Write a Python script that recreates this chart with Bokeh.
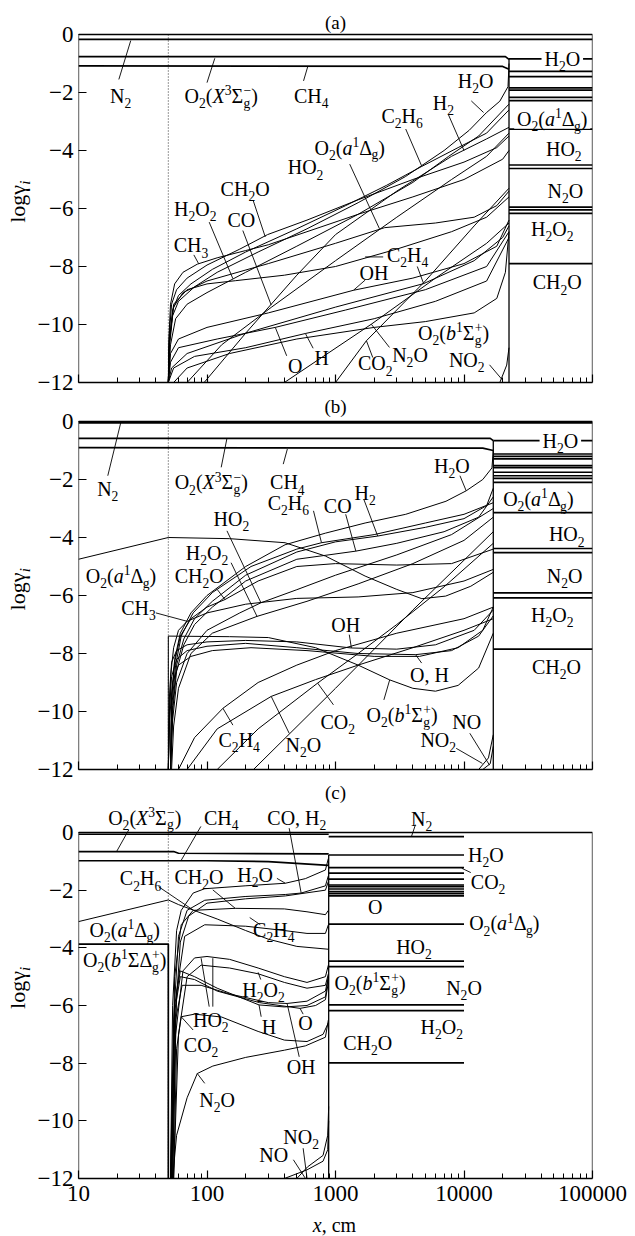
import re
from bokeh.plotting import figure
from bokeh.layouts import column, row
from bokeh.models import Label, FixedTicker
from bokeh.embed import file_html
from bokeh.resources import INLINE

FONT = "Liberation Serif"
LABEL_PX = 20
TITLE_PX = 19
TICK_PX = "23px"
FRAME_W = 516
PX_PER_DECADE = FRAME_W / 4.0
X_MIN, X_MAX = 10, 100000
Y_MIN, Y_MAX = -12, 0

X_TICKS = [10, 100, 1000, 10000, 100000]
X_MINOR = [m * d for d in (10, 100, 1000, 10000) for m in range(2, 10)]
Y_TICKS = [-12, -10, -8, -6, -4, -2, 0]

# ---------------- panel (a) ----------------
A_EDGE = 22400
A_N2 = ([10, 100000], [-0.17, -0.17])
A_O2X = ([10, 21000, 22400], [-0.76, -0.76, -0.86])
A_CH4 = ([10, 20000, 22400], [-1.08, -1.10, -1.20])
A_RIGHT = [-0.84, -1.27, -1.45, -1.84, -1.92, -2.17, -2.28, -3.26, -4.50, -4.62, -5.95, -6.05, -6.17, -7.90]

A_CH3 = ([50, 50.5, 52, 56, 65, 84, 120, 200, 300, 600, 1500, 4000, 10000, 20000, 22400],
         [-12, -10.5, -9.3, -8.6, -8.2, -7.92, -7.7, -7.45, -7.25, -6.8, -6.2, -5.6, -5.0, -4.3, -4.0])
A_CH2O = ([50, 51, 53, 58, 70, 100, 180, 296, 600, 1500, 4000, 10000, 18000, 22400],
          [-12, -10.3, -9.3, -8.8, -8.4, -7.95, -7.4, -6.9, -6.4, -5.7, -5.0, -4.4, -3.9, -3.5])
A_C2H6 = ([50, 51, 54, 60, 75, 110, 200, 500, 1200, 2500, 4640, 9000, 15000, 22400],
          [-12, -10.6, -9.5, -9.0, -8.6, -8.1, -7.5, -6.7, -5.9, -5.2, -4.56, -3.9, -3.4, -2.6])
A_H2O = ([50, 51, 54, 60, 80, 120, 250, 600, 1500, 3500, 7000, 11000, 14900, 19000, 22000, 22400],
         [-12, -10.8, -9.7, -9.2, -8.7, -8.2, -7.5, -6.7, -5.8, -4.9, -4.0, -3.3, -2.7, -2.3, -1.8, -1.0])
A_H2 = ([50, 52, 57, 70, 100, 200, 500, 1500, 4000, 7600, 13000, 22400],
        [-12, -10.7, -9.8, -9.3, -8.9, -8.2, -7.3, -6.2, -5.1, -4.2, -3.5, -2.4])
A_O2A = ([50, 51, 55, 65, 100, 300, 1000, 2415, 6000, 12000, 18000, 22400],
         [-12, -10.5, -9.4, -8.9, -8.5, -7.9, -7.2, -6.66, -6.5, -6.3, -5.9, -5.4])
A_H2O2 = ([50, 51, 55, 70, 100, 166, 400, 1000, 3000, 8000, 15000, 22400],
          [-12, -10.6, -9.3, -8.8, -8.6, -8.49, -8.3, -8.0, -7.4, -6.8, -6.3, -5.6])
A_HO2 = ([95, 200, 500, 1000, 3000, 8000, 15000, 22400],
         [-12, -10.3, -8.3, -6.9, -5.4, -4.2, -3.6, -3.2])
A_CO = ([70, 130, 316, 1000, 3000, 8000, 15000, 22400],
        [-12, -10.7, -9.41, -7.8, -6.3, -5.0, -4.2, -3.4])
A_OH = ([50, 52, 60, 100, 300, 1380, 4000, 10000, 18000, 22400],
        [-12, -11.0, -10.5, -10.1, -9.6, -8.82, -8.4, -7.9, -7.3, -6.4])
A_H = ([50, 55, 80, 200, 583, 2000, 6000, 15000, 22400],
       [-12, -11.5, -11.1, -10.8, -10.31, -9.8, -9.2, -8.5, -7.0])
A_O = ([50, 52, 60, 120, 340, 1200, 5000, 15000, 22400],
       [-12, -11.3, -10.8, -10.5, -10.1, -9.5, -8.8, -8.0, -6.8])
A_N2O = ([400, 1900, 6000, 15000, 22400], [-12, -9.99, -8.4, -7.2, -6.5])
A_CO2 = ([1000, 1740, 5000, 12000, 22400], [-12, -10.56, -8.5, -6.6, -5.3])
A_C2H4 = ([50, 53, 70, 200, 1000, 4850, 12000, 20000, 22400],
          [-12, -11.5, -11.0, -10.3, -9.4, -8.59, -7.8, -7.0, -6.6])
A_O2B = ([55, 70, 150, 500, 2000, 5000, 12000, 18000, 21000, 22400],
         [-12, -11.5, -11.0, -10.5, -10.1, -9.9, -9.6, -9.1, -8.2, -6.8])
A_NO2 = ([19000, 21500, 22400], [-12, -11.4, -10.8])

A_FLAT = [A_N2, A_O2X, A_CH4]
A_CURVES = [A_CH3, A_CH2O, A_C2H6, A_H2O, A_H2, A_O2A, A_H2O2, A_HO2, A_CO, A_OH,
            A_H, A_O, A_N2O, A_CO2, A_C2H4, A_O2B, A_NO2]

# label text, x, y, leader (x0, y0, x1, y1) or None, white backing
A_LABELS = [
    ("N_{2}", 21.3, -2.12, (20.6, -1.55, 25.5, -0.21), False),
    ("O_{2}(*X*^{3}Σ^{−}_{g})", 129, -2.12, (100, -1.66, 115, -0.82), False),
    ("CH_{4}", 648, -2.12, (564, -1.6, 607, -1.12), False),
    ("H_{2}O", 12300, -1.6, (11400, -2.29, 14200, -2.69), False),
    ("H_{2}", 6920, -2.35, (7540, -2.75, 10000, -4.0), False),
    ("C_{2}H_{6}", 3300, -2.8, (3520, -3.26, 4670, -4.52), False),
    ("O_{2}(*a*^{1}Δ_{g})", 1290, -3.9, (1290, -4.47, 2200, -6.7), False),
    ("HO_{2}", 585, -4.58, None, False),
    ("CH_{2}O", 198, -5.32, (229, -5.73, 284, -6.98), False),
    ("H_{2}O_{2}", 81, -6.01, (104, -6.47, 159, -8.42), False),
    ("CO", 185, -6.41, (190, -6.76, 316, -9.33), False),
    ("CH_{3}", 75, -7.27, (79, -7.6, 86, -7.9), False),
    ("C_{2}H_{4}", 3640, -7.61, (4330, -8.0, 4850, -8.59), False),
    ("OH", 1990, -8.24, (1700, -8.47, 1380, -8.82), False),
    ("O_{2}(*b*^{1}Σ^{+}_{g})", 8300, -10.3, None, False),
    ("H", 780, -11.16, (670, -10.82, 583, -10.31), False),
    ("O", 485, -11.42, (417, -11.08, 340, -10.1), False),
    ("CO_{2}", 2040, -11.34, (1950, -11.14, 1740, -10.56), False),
    ("N_{2}O", 3800, -11.05, (2630, -10.79, 1900, -9.99), False),
    ("NO_{2}", 10500, -11.22, (15800, -11.39, 19800, -11.9), False),
    ("H_{2}O", 58200, -0.83, None, True),
    ("O_{2}(*a*^{1}Δ_{g})", 48600, -2.92, None, True),
    ("HO_{2}", 59800, -3.95, None, False),
    ("N_{2}O", 61600, -5.39, None, False),
    ("H_{2}O_{2}", 48600, -6.71, None, False),
    ("CH_{2}O", 53200, -8.55, None, False),
]
A_EXTRA_LEADERS = [(1700, -7.67, 2350, -7.67)]

# ---------------- panel (b) ----------------
B_EDGE = 16900
B_N2 = ([10, 100000], [-0.05, -0.05])
B_O2X = ([10, 16000, 16900], [-0.58, -0.58, -0.66])
B_CH4 = ([10, 14000, 16900], [-0.90, -0.92, -1.00])
B_RIGHT = [-0.66, -1.12, -1.20, -1.29, -1.52, -1.59, -1.75, -1.87, -1.96, -2.10, -3.14, -4.38, -4.52, -5.91, -6.08, -7.85]

B_O2A = ([10, 50, 150, 405, 835, 1700, 3000, 4700, 7200, 11300, 16900],
         [-4.75, -4.0, -4.04, -4.18, -4.64, -5.33, -5.79, -6.11, -6.02, -5.68, -5.2])
B_O2B = ([50, 50, 150, 300, 700, 1500, 2640, 4000, 6000, 9000, 13000, 16900],
         [-12, -7.4, -7.42, -7.45, -7.8, -8.4, -8.91, -9.2, -9.3, -9.1, -8.5, -7.3])
B_H2O = ([52, 53, 56, 62, 75, 100, 200, 405, 835, 1700, 3520, 7240, 10400, 14000, 16500, 16900],
         [-12, -9.5, -8.2, -7.3, -6.6, -6.0, -5.0, -4.25, -3.85, -3.5, -3.2, -2.75, -2.39, -2.0, -1.6, -1.0])
B_H2 = ([52, 54, 58, 66, 80, 110, 200, 500, 1000, 2130, 5000, 10000, 15000, 16900],
        [-12, -9.8, -8.4, -7.5, -6.8, -6.2, -5.3, -4.5, -4.15, -3.95, -3.65, -3.35, -2.9, -2.3])
B_CO = ([52, 54, 58, 66, 80, 110, 200, 500, 1440, 3000, 7000, 13000, 16900],
        [-12, -10.0, -8.6, -7.7, -7.0, -6.4, -5.5, -4.75, -4.47, -4.2, -3.8, -3.3, -2.6])
B_C2H6 = ([52, 53, 57, 63, 78, 110, 220, 500, 778, 2000, 5000, 10000, 16900],
          [-12, -9.9, -8.4, -7.4, -6.6, -5.9, -5.0, -4.4, -4.18, -3.9, -3.5, -3.2, -2.8])
B_CH3 = ([50, 52, 55, 60, 70, 100, 200, 500, 1500, 4000, 10000, 16900],
         [-12, -8.8, -7.8, -7.2, -6.89, -6.6, -6.3, -6.1, -6.05, -5.9, -5.5, -5.1])
B_CH2O = ([52, 53, 56, 62, 75, 100, 138, 250, 500, 1000, 3000, 8000, 16900],
          [-12, -9.6, -8.3, -7.4, -6.8, -6.4, -6.14, -5.5, -5.0, -4.9, -4.95, -4.9, -4.4])
B_HO2 = ([52, 54, 58, 70, 100, 180, 263, 500, 1000, 3000, 8000, 16900],
         [-12, -10.3, -9.0, -8.0, -7.2, -6.6, -6.25, -5.8, -5.3, -4.6, -3.9, -3.0])
B_H2O2 = ([53, 55, 60, 75, 110, 245, 600, 1500, 4000, 10000, 16900],
          [-12, -10.5, -9.2, -8.0, -7.3, -6.72, -6.2, -5.6, -4.9, -4.1, -3.3])
B_OH = ([50, 51, 53, 58, 70, 100, 200, 500, 1330, 3000, 6000, 12000, 16900],
        [-12, -9.5, -8.3, -7.9, -7.7, -7.6, -7.55, -7.6, -7.81, -7.85, -7.7, -7.2, -6.5])
B_O = ([50, 51, 53, 58, 70, 100, 200, 500, 1500, 4200, 8000, 13000, 16900],
       [-12, -10.0, -8.8, -8.2, -7.9, -7.75, -7.65, -7.8, -8.0, -8.04, -7.9, -7.4, -6.7])
B_H = ([50, 51, 54, 60, 75, 110, 220, 600, 2000, 4500, 9000, 14000, 16900],
       [-12, -10.3, -9.0, -8.4, -8.1, -7.9, -7.8, -7.9, -8.1, -8.1, -7.8, -7.2, -6.4])
B_C2H4 = ([60, 80, 133, 250, 500, 1000, 3000, 10000, 16900],
          [-12, -10.9, -9.89, -9.0, -8.4, -7.9, -7.3, -6.8, -6.4])
B_N2O = ([70, 120, 316, 700, 1500, 4000, 10000, 16900],
         [-12, -10.6, -9.48, -8.9, -8.4, -7.8, -7.2, -6.8])
B_CO2 = ([120, 250, 726, 1500, 3000, 7000, 16900],
         [-12, -10.6, -9.02, -8.0, -7.0, -5.7, -4.2])
B_LATE = ([230, 1000, 4000, 16900], [-12, -9.2, -6.5, -3.8])
B_NO = ([13000, 15500, 16900], [-12, -11.6, -10.8])
B_NO2 = ([14000, 16000, 16900], [-12, -11.8, -11.2])

B_FLAT = [B_N2, B_O2X, B_CH4]
B_CURVES = [B_O2A, B_O2B, B_H2O, B_H2, B_CO, B_C2H6, B_CH3, B_CH2O, B_HO2, B_H2O2,
            B_OH, B_O, B_H, B_C2H4, B_N2O, B_CO2, B_LATE, B_NO, B_NO2]

B_LABELS = [
    ("N_{2}", 16.9, -2.33, (16.9, -1.87, 21.3, -0.05), False),
    ("O_{2}(*X*^{3}Σ^{−}_{g})", 108, -2.1, (129, -1.58, 143, -0.58), False),
    ("CH_{4}", 422, -2.1, (392, -1.47, 422, -0.95), False),
    ("C_{2}H_{6}", 430, -2.8, (674, -3.08, 778, -4.18), False),
    ("CO", 1040, -2.91, (1200, -3.2, 1440, -4.47), False),
    ("H_{2}", 1700, -2.45, (1660, -2.68, 2130, -3.95), False),
    ("H_{2}O", 8060, -1.52, (9300, -1.87, 10400, -2.39), False),
    ("HO_{2}", 155, -3.37, (143, -3.77, 263, -6.25), False),
    ("H_{2}O_{2}", 100, -4.52, (154, -4.87, 245, -6.72), False),
    ("O_{2}(*a*^{1}Δ_{g})", 21.4, -5.33, None, False),
    ("CH_{2}O", 87, -5.33, (120, -5.79, 138, -6.14), False),
    ("CH_{3}", 29.3, -6.43, (40, -6.6, 70, -6.89), False),
    ("OH", 1200, -7.0, (1280, -7.35, 1330, -7.81), False),
    ("O, H", 5380, -8.73, (4680, -8.33, 4200, -8.04), False),
    ("O_{2}(*b*^{1}Σ^{+}_{g})", 3300, -10.12, (2380, -9.6, 2640, -8.91), False),
    ("CO_{2}", 1040, -10.35, (964, -9.77, 726, -9.02), False),
    ("C_{2}H_{4}", 178, -10.98, (159, -10.47, 133, -9.89), False),
    ("N_{2}O", 562, -11.16, (436, -10.75, 316, -9.48), False),
    ("NO", 10500, -10.35, (11100, -10.75, 15800, -11.85), False),
    ("NO_{2}", 6300, -10.98, (8700, -11.27, 13900, -11.79), False),
    ("H_{2}O", 56200, -0.66, None, True),
    ("O_{2}(*a*^{1}Δ_{g})", 37900, -2.68, None, True),
    ("HO_{2}", 63000, -3.89, None, False),
    ("N_{2}O", 60600, -5.33, None, False),
    ("H_{2}O_{2}", 48600, -6.66, None, False),
    ("CH_{2}O", 52500, -8.45, None, False),
]

# ---------------- panel (c) ----------------
C_EDGE = 885
C_END = 10000
C_N2 = ([10, 885], [-0.06, -0.06])
C_N2_R = ([885, 10000], [-0.14, -0.14])
C_O2X = ([10, 55, 60, 885], [-0.66, -0.66, -0.72, -0.74])
C_CH4 = ([10, 100, 300, 885], [-0.98, -0.98, -1.01, -1.14])
C_O2B = ([10, 50, 50], [-3.87, -3.87, -12])
C_RIGHT = [-0.78, -1.22, -1.41, -1.62, -1.82, -1.88, -1.96, -2.05, -2.12, -2.20, -3.18, -4.46, -4.65, -5.98, -6.18, -7.99]

C_H2O = ([52, 54, 58, 63, 78, 96, 138, 198, 407, 583, 835, 880],
         [-12, -6.0, -3.4, -2.7, -2.1, -1.95, -1.9, -1.85, -1.76, -1.6, -1.3, -0.9])
C_CO = ([52, 55, 60, 70, 96, 198, 407, 540, 835, 880],
        [-12, -6.5, -3.6, -2.7, -2.35, -2.22, -2.15, -2.1, -1.85, -1.5])
C_H2 = ([52, 56, 62, 72, 100, 200, 407, 835, 880],
        [-12, -6.8, -3.8, -2.9, -2.45, -2.3, -2.2, -2.0, -1.7])
C_CH2O = ([53, 56, 63, 78, 166, 400, 600, 835, 880],
          [-12, -5.0, -3.2, -2.7, -2.63, -2.65, -2.75, -2.85, -2.7])
C_C2H4 = ([54, 58, 67, 96, 200, 400, 600, 835, 880],
          [-12, -5.5, -3.6, -3.2, -3.25, -3.4, -3.5, -3.5, -3.2])
C_O2A = ([10, 50, 60, 78, 120, 200, 300, 500, 885],
         [-3.09, -2.34, -2.5, -2.69, -3.0, -3.4, -3.7, -3.95, -4.05])
C_HO2 = ([54, 57, 65, 80, 100, 150, 250, 400, 600, 835, 880],
         [-12, -7.0, -4.8, -4.35, -4.3, -4.4, -4.7, -5.0, -5.2, -5.0, -4.6])
C_H2O2 = ([55, 60, 70, 90, 150, 250, 400, 600, 835, 880],
          [-12, -7.0, -5.0, -4.6, -4.7, -4.9, -5.2, -5.4, -5.3, -4.9])
C_H = ([53, 56, 62, 80, 120, 254, 400, 600, 835, 880],
       [-12, -6.0, -4.8, -5.0, -5.4, -5.98, -6.05, -6.0, -5.7, -5.0])
C_O = ([53, 56, 62, 80, 120, 256, 530, 700, 835, 880],
       [-12, -6.2, -5.0, -5.1, -5.5, -5.9, -6.1, -6.0, -5.8, -5.2])
C_OH = ([53, 57, 64, 90, 150, 300, 420, 600, 835, 880],
        [-12, -6.5, -5.3, -5.3, -5.6, -5.9, -5.93, -5.85, -5.5, -5.0])
C_CO2 = ([55, 58, 63, 80, 130, 250, 400, 600, 800, 880],
         [-12, -7.5, -6.39, -6.3, -6.4, -6.9, -7.2, -7.25, -7.0, -6.6])
C_N2O = ([54, 58, 70, 84, 111, 200, 400, 583, 835, 880],
         [-12, -10.5, -9.2, -8.36, -8.1, -7.8, -7.55, -7.4, -7.1, -6.5])
C_NO = ([400, 600, 800, 870, 885], [-12, -11.7, -11.4, -11.0, -10.0])
C_NO2 = ([500, 605, 800, 870, 885], [-12, -11.6, -11.2, -10.5, -9.5])

C_FLAT = [C_N2, C_N2_R, C_O2X, C_CH4, C_O2B]
C_CURVES = [C_H2O, C_CO, C_H2, C_CH2O, C_C2H4, C_O2A, C_HO2, C_H2O2, C_H, C_O, C_OH,
            C_CO2, C_N2O, C_NO, C_NO2]

C_LABELS = [
    ("O_{2}(*X*^{3}Σ^{−}_{g})", 32.8, 0.52, (24.6, 0.09, 19.8, -0.66), False),
    ("CH_{4}", 129, 0.52, (89.6, 0.21, 62.7, -0.98), False),
    ("CO, H_{2}", 500, 0.52, (436, 0.15, 541, -2.11), False),
    ("N_{2}", 4680, 0.48, (4190, 0.27, 3900, -0.14), False),
    ("C_{2}H_{6}", 30.4, -1.59, (42, -1.88, 78, -2.69), False),
    ("CH_{2}O", 86.5, -1.53, (111, -1.99, 166, -2.63), False),
    ("H_{2}O", 237, -1.47, (350, -1.59, 407, -1.76), False),
    ("C_{2}H_{4}", 331, -3.38, (260, -3.2, 215, -2.95), False),
    ("O_{2}(*a*^{1}Δ_{g})", 22.9, -3.38, None, False),
    ("O_{2}(*b*^{1}ΣΔ^{+}_{g})", 22.9, -4.42, None, False),
    ("H_{2}O_{2}", 275, -5.46, (262, -5.1, 250, -4.85), False),
    ("HO_{2}", 107, -6.5, (104, -6.04, 90, -4.36), False),
    ("CO_{2}", 90, -7.37, (78, -6.85, 63, -6.39), False),
    ("H", 304, -6.74, (264, -6.39, 254, -5.98), False),
    ("O", 584, -6.62, (560, -6.3, 530, -6.1), False),
    ("OH", 540, -8.13, (522, -7.78, 420, -5.93), False),
    ("N_{2}O", 120, -9.28, (96, -8.7, 84, -8.36), False),
    ("NO_{2}", 540, -10.56, (560, -10.95, 600, -11.98), False),
    ("NO", 330, -11.19, (470, -11.35, 580, -11.98), False),
    ("H_{2}O", 14800, -0.78, None, False),
    ("CO_{2}", 15400, -1.70, (9600, -1.24, 11300, -1.39), False),
    ("O", 2040, -2.57, None, False),
    ("O_{2}(*a*^{1}Δ_{g})", 20600, -3.15, None, False),
    ("HO_{2}", 4080, -3.96, None, False),
    ("N_{2}O", 10000, -5.40, None, False),
    ("H_{2}O_{2}", 6720, -6.74, None, False),
    ("CH_{2}O", 1780, -7.31, None, False),
    ("O_{2}(*b*^{1}Σ^{+}_{g})", 1860, -5.23, None, False),
]
C_EXTRA_LEADERS = [(111, -6.04, 111, -4.36)]

# ---------------- rich-text labels ----------------
ADV = {"H": .722, "O": .722, "C": .667, "N": .722, "X": .722, "(": .333, ")": .333,
       ",": .25, " ": .25, "+": .564, "−": .564, "Σ": .60, "Δ": .61, "a": .444, "b": .5,
       "c": .444, "g": .5, "l": .278, "o": .5, "m": .778, "x": .5, "i": .278, "γ": .45}
ADV_IT = {"X": .611, "a": .5, "b": .5, "x": .444, "i": .278}
TOKEN = re.compile(r"\^\{([^}]*)\}|_\{([^}]*)\}|\*([^*]*)\*|([^\^_*]+)")
# vertical position of each run's middle, relative to the middle of the main text
MID_SHIFT = {"base": 0.0, "sub": -0.36, "sup": 0.29}
SMALL = 0.68


def parse(markup):
    out = []
    for m in TOKEN.finditer(markup):
        sup, sub, it, plain = m.groups()
        if sup is not None or sub is not None:
            txt = sup if sup is not None else sub
            italic = len(txt) > 2 and txt.startswith("*") and txt.endswith("*")
            out.append((txt.strip("*"), "sup" if sup is not None else "sub", italic))
        elif it is not None:
            out.append((it, "base", True))
        else:
            out.append((plain, "base", False))
    return out


def place(markup, size):
    items, cursor, last = [], 0.0, None
    for text, kind, italic in parse(markup):
        fs = size if kind == "base" else round(size * SMALL, 1)
        table = ADV_IT if italic else ADV
        w = sum(table.get(ch, ADV.get(ch, 0.5)) for ch in text) * fs
        if kind != "base" and last is not None and last[0] != kind:
            start = last[1]
            cursor = max(cursor, start + w)
            last = None
        else:
            start = cursor
            cursor += w
            last = (kind, start) if kind != "base" else None
        items.append((text, kind, italic, fs, start))
    return items, cursor


def rich_label(p, markup, x, y, size=LABEL_PX, align="center", vertical=False):
    items, width = place(markup, size)
    shift = {"left": 0.0, "center": -width / 2, "right": -width}[align]
    for text, kind, italic, fs, start in items:
        along = shift + start
        across = MID_SHIFT[kind] * size
        xo, yo = (-across, along) if vertical else (along, across)
        p.add_layout(Label(x=x, y=y, x_offset=xo, y_offset=yo, text=text,
                           angle=1.5707963 if vertical else 0.0,
                           text_font=FONT, text_font_size=f"{fs}px",
                           text_font_style="italic" if italic else "normal",
                           text_align="left", text_baseline="middle",
                           text_color="black"))
    return width


def white_box(p, x, y, width_px, height_px, px_per_unit):
    half_dec = width_px / 2 / PX_PER_DECADE
    half_y = height_px / 2 / px_per_unit
    p.quad(left=[x / 10 ** half_dec], right=[x * 10 ** half_dec],
           bottom=[y - half_y], top=[y + half_y], fill_color="white", line_color=None)


def text_strip(width, height):
    """A bare figure whose frame fills the canvas, used to hold free text."""
    s = figure(width=width, height=height, x_range=(0, width), y_range=(0, height),
               x_axis_location=None, y_axis_location=None, min_border=0,
               output_backend="svg", toolbar_location=None)
    s.grid.visible = False
    s.outline_line_color = None
    s.background_fill_color = "white"
    s.border_fill_color = "white"
    return s


STRIP_W = 34
PANEL_W = 635 - STRIP_W


def make_panel(height, top_value, bottom, show_x):
    # the frame reaches the top of the canvas so that titles and labels above
    # the plotting box stay drawable; the box sides are drawn as lines
    p = figure(width=PANEL_W, height=height, x_axis_type="log", x_range=(X_MIN, X_MAX),
               y_range=(Y_MIN, top_value), min_border_left=76 - STRIP_W,
               min_border_right=43, min_border_top=0, min_border_bottom=bottom,
               output_backend="svg", toolbar_location=None)
    p.grid.visible = False
    p.outline_line_color = None
    p.background_fill_color = "white"
    p.border_fill_color = "white"

    p.xaxis.ticker = FixedTicker(ticks=X_TICKS, minor_ticks=X_MINOR)
    p.xaxis.major_label_overrides = {t: str(t) for t in X_TICKS}
    p.yaxis.ticker = FixedTicker(ticks=Y_TICKS, minor_ticks=[])
    p.yaxis.major_label_overrides = {t: ("0" if t == 0 else "−%d" % -t) for t in Y_TICKS}
    for ax in (p.xaxis[0], p.yaxis[0]):
        ax.major_tick_in = 8
        ax.major_tick_out = 0
        ax.minor_tick_in = 5
        ax.minor_tick_out = 0
        ax.major_tick_line_color = "black"
        ax.minor_tick_line_color = "black"
        ax.major_tick_line_width = 1.2
        ax.major_label_text_font = FONT
        ax.major_label_text_color = "black"
        ax.major_label_text_font_size = TICK_PX
    p.xaxis.axis_line_color = "black"
    p.xaxis.axis_line_width = 1.3
    p.yaxis.axis_line_color = None
    p.yaxis.major_label_standoff = 5
    if show_x:
        p.xaxis.major_label_standoff = 7
    else:
        p.xaxis.major_label_text_font_size = "1px"
        p.xaxis.major_label_text_color = None
        p.xaxis.major_label_standoff = 0
    # left, top and right sides of the plotting box
    p.line([X_MIN, X_MIN, X_MAX, X_MAX], [Y_MIN, Y_MAX, Y_MAX, Y_MIN],
           line_color="black", line_width=1.3)
    return p


def draw_panel(p, flats, curves, right_levels, edge, right_end, labels, extra,
               px_per_unit, title, title_y):
    for xs, ys in flats:
        p.line(xs, ys, line_color="black", line_width=1.7)
    for xs, ys in curves:
        p.line(xs, ys, line_color="black", line_width=1.0)
    n = len(right_levels)
    p.segment(x0=[edge] * n, x1=[right_end] * n, y0=right_levels, y1=right_levels,
              line_color="black", line_width=1.7)
    p.segment(x0=[edge], x1=[edge], y0=[right_levels[0]], y1=[Y_MIN],
              line_color="black", line_width=1.3)
    p.line([50, 50], [Y_MAX, Y_MIN], line_color="black", line_width=0.8, line_dash="1 2")
    leaders = [lab[3] for lab in labels if lab[3] is not None] + list(extra)
    p.segment(x0=[l[0] for l in leaders], y0=[l[1] for l in leaders],
              x1=[l[2] for l in leaders], y1=[l[3] for l in leaders],
              line_color="black", line_width=0.9)
    for text, x, y, lead, backing in labels:
        if backing:
            _, w = place(text, LABEL_PX)
            white_box(p, x, y, w + 6, LABEL_PX * 0.95, px_per_unit)
        rich_label(p, text, x, y)
    p.add_layout(Label(x=1000, y=title_y, text=title, text_font=FONT,
                       text_font_size=f"{TITLE_PX}px", text_align="center",
                       text_baseline="middle", text_color="black"))


def y_label_strip(height, center_from_top):
    s = text_strip(STRIP_W, height)
    rich_label(s, "logγ_{*i*}", 17, height - center_from_top, size=22, vertical=True)
    return s


# panel (a): canvas 0..395, plotting box 34..382 (29 px per unit of logγ)
pa = make_panel(395, 382 / 29.0 - 12, 13, False)
draw_panel(pa, A_FLAT, A_CURVES, A_RIGHT, A_EDGE, X_MAX, A_LABELS, A_EXTRA_LEADERS,
           29.0, "(a)", 12 / 29.0)

# panel (b): canvas 395..781, plotting box 421..769
pb = make_panel(386, 374 / 29.0 - 12, 12, False)
draw_panel(pb, B_FLAT, B_CURVES, B_RIGHT, B_EDGE, X_MAX, B_LABELS, [],
           29.0, "(b)", 15.5 / 29.0)

# panel (c): canvas 781..1212, plotting box 832..1178
C_PPU = 346 / 12.0
pc = make_panel(431, 397 / C_PPU - 12, 34, True)
draw_panel(pc, C_FLAT, C_CURVES, C_RIGHT, C_EDGE, C_END, C_LABELS, C_EXTRA_LEADERS,
           C_PPU, "(c)", 40 / C_PPU)

# axis title under panel (c): canvas 1212..1236
xl = text_strip(635, 24)
rich_label(xl, "*x*, cm", 334, 12, size=20)

layout = column(
    row(y_label_strip(395, 208), pa),
    row(y_label_strip(386, 200), pb),
    row(y_label_strip(431, 224), pc),
    xl,
)
open("out.html", "w").write(file_html(layout, INLINE))
